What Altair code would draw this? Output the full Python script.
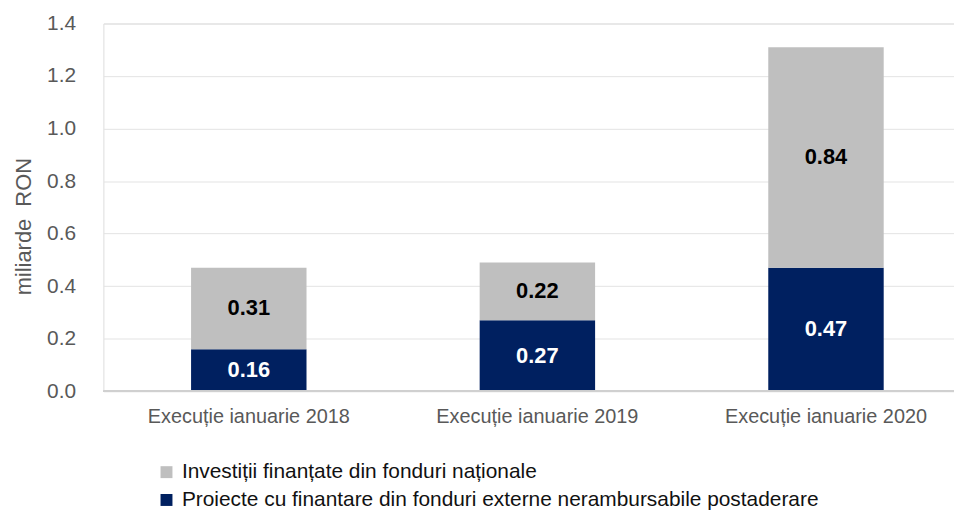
import altair as alt
import pandas as pd

categories = ["Execuție ianuarie 2018", "Execuție ianuarie 2019", "Execuție ianuarie 2020"]
series_names = [
    "Investiții finanțate din fonduri naționale",
    "Proiecte cu finantare din fonduri externe nerambursabile postaderare",
]
national = [0.31, 0.22, 0.84]
external = [0.16, 0.27, 0.47]
y_ticks = [0.0, 0.2, 0.4, 0.6, 0.8, 1.0, 1.2, 1.4]
colors = ["#BFBFBF", "#002060"]

rows = []
for i, c in enumerate(categories):
    rows.append({"category": c, "series": series_names[1], "value": external[i], "ord": 0})
    rows.append({"category": c, "series": series_names[0], "value": national[i], "ord": 1})
df = pd.DataFrame(rows)

FONT = "Liberation Sans, Arial, sans-serif"

base = alt.Chart(df).transform_stack(
    stack="value", groupby=["category"], sort=[alt.SortField("ord", order="ascending")], as_=["y0", "y1"]
).transform_calculate(mid="(datum.y0 + datum.y1) / 2")

x_scale = alt.Scale(paddingInner=0.6, paddingOuter=0.2737, align=0.555)
y_scale = alt.Scale(domain=[0, 1.4], nice=False)

x_axis = alt.Axis(
    labelAngle=0, ticks=False, labelPadding=16, labelFontSize=20, labelFont=FONT,
    labelColor="#595959", domain=False, grid=False, gridOpacity=0, labelLimit=500,
)
y_axis = alt.Axis(
    values=y_ticks, format=".1f", ticks=False, domain=False, domainOpacity=0, labelPadding=28,
    labelFontSize=21, labelFont=FONT, labelColor="#595959",
    grid=True, gridColor="#e3e3e3", gridWidth=1,
    titleFont=FONT, titleFontSize=22, titleFontWeight="normal", titleColor="#595959",
    titleX=-80, titleY=204, titleAngle=270, titleAlign="center", titleBaseline="middle",
)

bars = base.mark_bar().encode(
    x=alt.X("category:N", sort=categories, title=None, scale=x_scale, axis=x_axis),
    y=alt.Y("y0:Q", scale=y_scale, title="miliarde\u00a0 RON", axis=y_axis),
    y2="y1:Q",
    color=alt.Color(
        "series:N",
        scale=alt.Scale(domain=series_names, range=colors),
        legend=alt.Legend(
            title=None, orient="none", legendX=53, legendY=441, direction="vertical",
            symbolType="square", symbolSize=144, symbolStrokeWidth=0, labelFont=FONT,
            labelFontSize=21, labelColor="#111111", rowPadding=6, labelOffset=5, padding=0,
            labelLimit=900,
        ),
    ),
)

labels = base.mark_text(font=FONT, fontSize=22, fontWeight="bold").encode(
    x=alt.X("category:N", sort=categories, title=None, scale=x_scale, axis=x_axis),
    y=alt.Y("mid:Q", scale=y_scale, title="miliarde\u00a0 RON", axis=y_axis),
    text=alt.Text("value:Q", format=".2f"),
    color=alt.condition(alt.datum.ord == 0, alt.value("#FFFFFF"), alt.value("#000000")),
)

baseline = alt.Chart(df).mark_rule(color="#d0d0d0", strokeWidth=1.5).encode(
    y=alt.Y(datum=0, scale=y_scale)
)

chart = alt.layer(bars, baseline, labels).properties(
    width=856,
    height=370,
    autosize=alt.AutoSizeParams(type="none"),
    padding={"left": 96, "top": 14, "right": 0, "bottom": 120},
).configure_view(strokeWidth=0, strokeOpacity=0, stroke="transparent").configure_axis(
    domain=False, ticks=False, domainOpacity=0
).configure_axisX(grid=False, gridOpacity=0).configure(background="white")

chart.save("out.html", embed_options={"renderer": "svg", "actions": False})
